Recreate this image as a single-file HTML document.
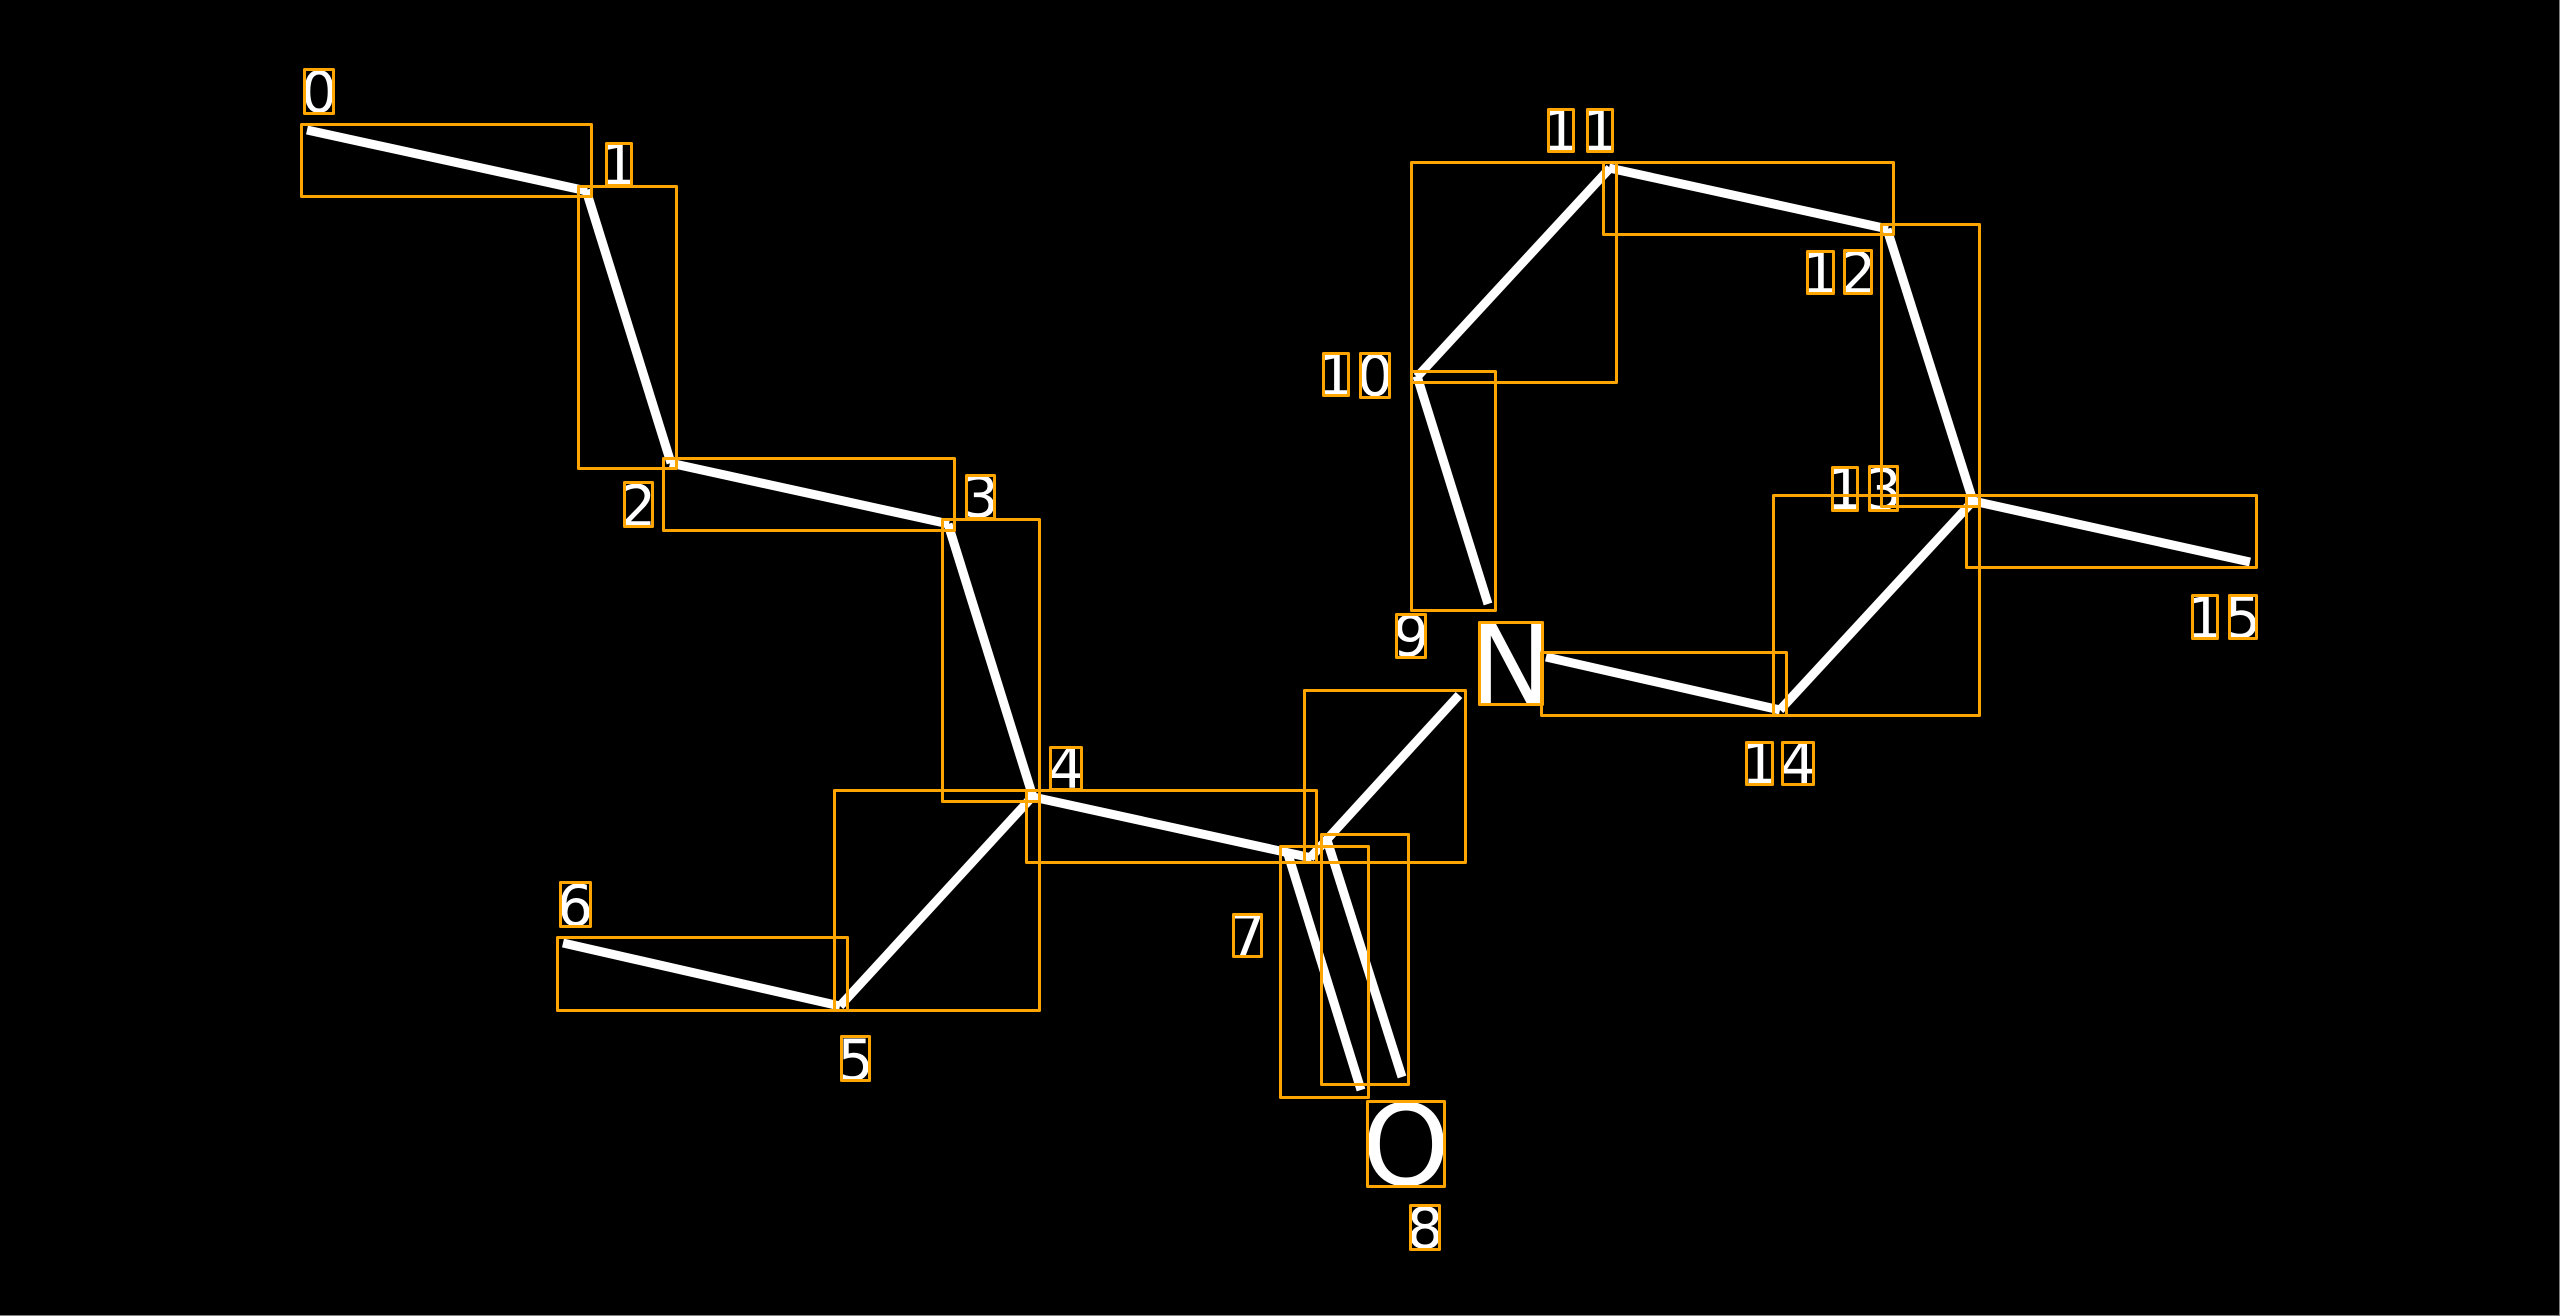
<!DOCTYPE html>
<html>
<head>
<meta charset="utf-8">
<style>
html,body{margin:0;padding:0;background:#000;width:2560px;height:1316px;overflow:hidden}
svg{display:block}
text{font-family:"DejaVu Sans",sans-serif;fill:#fff;text-anchor:middle}
.d{font-size:57px}
.a{font-size:112px}
.w line{stroke:#fff;stroke-width:9;stroke-linecap:butt}
.o rect{fill:none;stroke:#FFA500;stroke-width:3;stroke-linejoin:round}
</style>
</head>
<body>
<svg width="2560" height="1316" viewBox="0 0 2560 1316" xmlns="http://www.w3.org/2000/svg">
<rect width="2560" height="1316" fill="#000"/>
<rect x="0" y="1315" width="2560" height="1" fill="#808080"/>
<rect x="2559" y="0" width="1" height="1316" fill="#808080"/>
<g class="w">
<line x1="307" y1="130" x2="587" y2="191"/>
<line x1="586" y1="190" x2="671" y2="463"/>
<line x1="670" y1="463" x2="949" y2="524"/>
<line x1="948" y1="524" x2="1033" y2="797"/>
<line x1="1033" y1="796" x2="840" y2="1006"/>
<line x1="840" y1="1006" x2="563" y2="943"/>
<line x1="1033" y1="797" x2="1312" y2="858"/>
<line x1="1287" y1="851" x2="1361" y2="1090"/>
<line x1="1310" y1="858" x2="1459" y2="695"/>
<line x1="1327" y1="840" x2="1402" y2="1077"/>
<line x1="1488" y1="604" x2="1417" y2="376"/>
<line x1="1417" y1="377" x2="1610" y2="168"/>
<line x1="1609" y1="168" x2="1888" y2="229"/>
<line x1="1887" y1="229" x2="1973" y2="501"/>
<line x1="1973" y1="501" x2="1780" y2="710"/>
<line x1="1780" y1="710" x2="1546" y2="657"/>
<line x1="1973" y1="501" x2="2250" y2="562"/>
</g>
<g>
<text class="d" x="319" y="112">0</text>
<text class="d" x="619" y="184.5">1</text>
<text class="d" x="638" y="526">2</text>
<text class="d" x="980.5" y="517">3</text>
<text class="d" x="1066" y="788">4</text>
<text class="d" x="855.5" y="1080">5</text>
<text class="d" x="575" y="925.5">6</text>
<text class="d" x="1247.5" y="955.5">7</text>
<text class="a" x="1406" y="1185">O</text>
<text class="d" x="1425" y="1248">8</text>
<text class="d" x="1411" y="656">9</text>
<text class="a" x="1511" y="704">N</text>
<text class="d" x="1336" y="395">1</text>
<text class="d" x="1375" y="395.5">0</text>
<text class="d" x="1560.5" y="150.5">1</text>
<text class="d" x="1600" y="150.5">1</text>
<text class="d" x="1820" y="293">1</text>
<text class="d" x="1858" y="293">2</text>
<text class="d" x="1845" y="509">1</text>
<text class="d" x="1883.5" y="509.5">3</text>
<text class="d" x="1759.5" y="783.5">1</text>
<text class="d" x="1798" y="783.5">4</text>
<text class="d" x="2205" y="638">1</text>
<text class="d" x="2243" y="637.5">5</text>
</g>
<g class="o">
<!-- bond boxes -->
<rect x="301.5" y="124.5" width="290" height="72"/>
<rect x="578.5" y="186.5" width="98" height="282"/>
<rect x="663.5" y="458.5" width="291" height="72"/>
<rect x="942.5" y="519.5" width="97" height="282"/>
<rect x="834.5" y="790.5" width="205" height="220"/>
<rect x="557.5" y="937.5" width="290" height="73"/>
<rect x="1026.5" y="790.5" width="290" height="72"/>
<rect x="1280.5" y="846.5" width="88" height="251"/>
<rect x="1304.5" y="690.5" width="161" height="172"/>
<rect x="1321.5" y="834.5" width="87" height="250"/>
<rect x="1411.5" y="371.5" width="84" height="239"/>
<rect x="1411.5" y="162.5" width="205" height="220"/>
<rect x="1603.5" y="162.5" width="290" height="72"/>
<rect x="1881.5" y="224.5" width="98" height="282"/>
<rect x="1773.5" y="495.5" width="206" height="220"/>
<rect x="1541.5" y="652.5" width="245" height="63"/>
<rect x="1966.5" y="495.5" width="290" height="72"/>
<!-- label boxes -->
<rect x="304.5" y="69.5" width="29" height="44"/>
<rect x="606.5" y="143.5" width="25" height="42"/>
<rect x="624.5" y="482.5" width="28" height="44"/>
<rect x="966.5" y="475.5" width="28" height="43"/>
<rect x="1050.5" y="747.5" width="31" height="42"/>
<rect x="841.5" y="1036.5" width="28" height="44"/>
<rect x="560.5" y="882.5" width="30" height="44"/>
<rect x="1233.5" y="914.5" width="28" height="42"/>
<rect x="1367.5" y="1101.5" width="77" height="85"/>
<rect x="1410.5" y="1205.5" width="29" height="44"/>
<rect x="1396.5" y="614.5" width="29" height="43"/>
<rect x="1479.5" y="622.5" width="63" height="82"/>
<rect x="1323.5" y="353.5" width="25" height="42"/>
<rect x="1360.5" y="353.5" width="29" height="44"/>
<rect x="1548.5" y="109.5" width="25" height="42"/>
<rect x="1587.5" y="109.5" width="25" height="42"/>
<rect x="1807.5" y="251.5" width="26" height="42"/>
<rect x="1844.5" y="250.5" width="27" height="43"/>
<rect x="1832.5" y="467.5" width="25" height="43"/>
<rect x="1869.5" y="466.5" width="28" height="44"/>
<rect x="1746.5" y="742.5" width="26" height="42"/>
<rect x="1782.5" y="742.5" width="31" height="42"/>
<rect x="2192.5" y="595.5" width="25" height="43"/>
<rect x="2229.5" y="595.5" width="27" height="43"/>
</g>
</svg>
</body>
</html>
